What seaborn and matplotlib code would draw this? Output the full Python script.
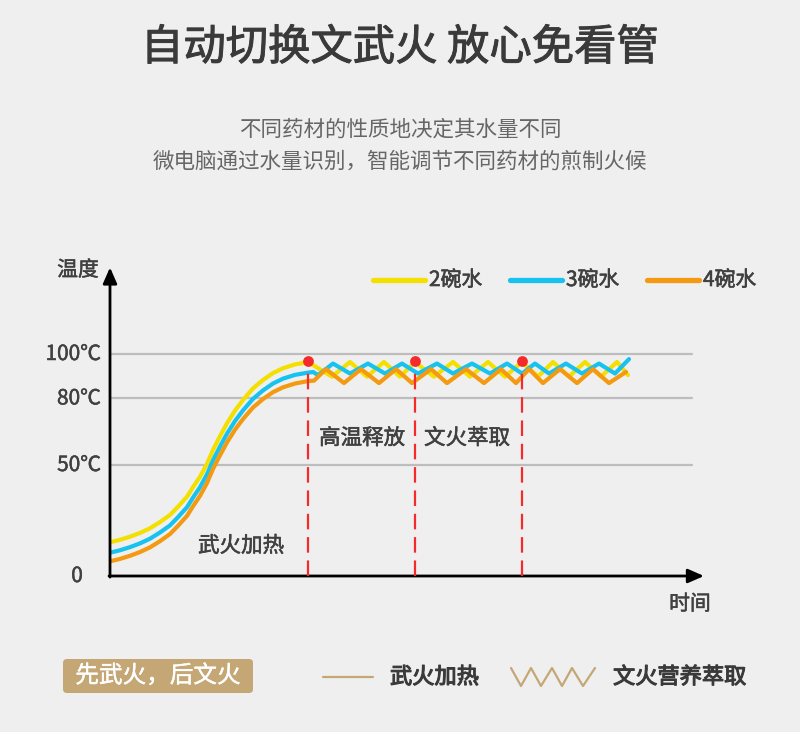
import numpy as np
import pandas as pd
import seaborn as sns
import matplotlib.pyplot as plt
import matplotlib.patheffects as pe
from matplotlib.patches import FancyBboxPatch

sns.set_theme(style='white')
plt.rcParams['font.family'] = ['Noto Sans CJK SC', 'DejaVu Sans']

# values (time in arbitrary units, temperature in ℃)
rise_time = [1, 10, 20, 30, 40, 50, 60, 68, 77, 83, 90, 97, 103, 110, 117, 125, 133, 143, 153, 163, 173, 185, 198]
rise_2 = [15.3, 16.3, 17.7, 19.4, 21.5, 24.3, 27.5, 31.2, 35.7, 40.0, 44.7, 50.5, 56.8, 63.0, 68.8, 74.5, 79.3, 84.5, 88.3, 91.4, 93.6, 95.3, 96.4]
rise_3 = [10.6, 11.6, 13.0, 14.7, 16.8, 19.6, 22.8, 26.5, 31.0, 35.3, 40.0, 45.8, 52.1, 58.3, 64.1, 69.8, 74.6, 79.8, 83.6, 86.7, 88.9, 90.6, 91.6]
rise_4 = [6.7, 7.7, 9.1, 10.8, 12.9, 15.7, 18.9, 22.6, 27.1, 31.4, 36.1, 41.9, 48.2, 54.4, 60.2, 65.9, 70.7, 75.9, 79.7, 82.8, 85.0, 86.7, 87.8]

keep_time_2 = [222, 240, 257, 274, 290, 305, 324, 343, 360, 378, 395, 412, 428, 443, 459, 475, 491, 507, 518]
keep_2 = [89.8, 96.4, 89.8, 96.4, 89.8, 96.4, 89.8, 96.4, 89.8, 96.4, 89.8, 96.4, 89.8, 96.4, 89.8, 96.4, 89.8, 96.4, 90.5]
keep_time_3 = [203, 208, 223, 240, 258, 275, 292, 308, 327, 343, 362, 380, 397, 412, 425, 439, 456, 472, 489, 505, 519]
keep_3 = [91.9, 90.5, 95.7, 91.2, 95.7, 91.2, 95.7, 91.2, 95.7, 91.2, 95.7, 91.2, 95.7, 91.2, 95.7, 91.2, 95.7, 91.2, 95.7, 91.2, 97.7]
keep_time_4 = [204, 216, 234, 251, 269, 286, 302, 321, 337, 356, 374, 391, 406, 419, 433, 450, 467, 483, 499, 516]
keep_4 = [88.0, 93.2, 86.9, 93.2, 86.9, 93.2, 86.9, 93.2, 86.9, 93.2, 86.9, 93.2, 86.9, 93.2, 86.9, 93.2, 86.9, 93.2, 86.9, 91.9]

series_names = ['2碗水', '3碗水', '4碗水']
series_colors = ['#f3e000', '#17c3ee', '#f39a12']

stage_time = [198, 305, 412]
stage_temp = 96.8
grid_temps = [50, 80, 100]
tick_labels = ['0', '50℃', '80℃', '100℃']
tick_temps = [0, 50, 80, 100]

frames = []
for name, rt, rv, kt, kv in [
    (series_names[0], rise_time, rise_2, keep_time_2, keep_2),
    (series_names[1], rise_time, rise_3, keep_time_3, keep_3),
    (series_names[2], rise_time, rise_4, keep_time_4, keep_4),
]:
    frames.append(pd.DataFrame({'time': rt + kt, 'temp': rv + kv, 'water': name}))
df = pd.concat(frames, ignore_index=True)

bg = '#efefef'
txt = '#404040'
tan = '#c4a775'


def heavy(c, w=0.6):
    # thin outline to fake a medium font weight
    return [pe.withStroke(linewidth=w, foreground=c)]


fig = plt.figure(figsize=(8, 7.32), dpi=100)
fig.patch.set_facecolor(bg)

# main axes placed in pixel terms: origin at (110, 576), 2.22 px per ℃
W, H = 800, 732
ax = fig.add_axes([110 / W, (H - 576) / H, 590 / W, 310.8 / H])
ax.set_facecolor('none')
ax.set_xlim(0, 590)
ax.set_ylim(0, 140)
for s in ax.spines.values():
    s.set_visible(False)
ax.set_xticks([])
ax.set_yticks([])

for t in grid_temps:
    ax.plot([0, 582], [t, t], color='#bdbdbd', lw=1.6, zorder=1)

sns.lineplot(data=df, x='time', y='temp', hue='water', palette=series_colors,
             hue_order=series_names, sort=False, estimator=None, lw=3.0,
             legend=False, ax=ax, zorder=3)

for t in stage_time:
    ax.plot([t, t], [0, stage_temp], color='#f52a2a', lw=1.6, dashes=(7, 3.5), zorder=4)
ax.scatter(stage_time, [stage_temp] * 3, s=60, color='#f52a2a', zorder=5, linewidths=0)

# axis arrows
ax.annotate('', xy=(0, 139), xytext=(0, -0.5), xycoords='data',
            arrowprops=dict(arrowstyle='-|>,head_length=0.8,head_width=0.35', color='black', lw=2.0, shrinkA=0, shrinkB=0))
ax.annotate('', xy=(594, 0), xytext=(-1, 0), xycoords='data', annotation_clip=False,
            arrowprops=dict(arrowstyle='-|>,head_length=0.8,head_width=0.35', color='black', lw=2.0, shrinkA=0, shrinkB=0))

for lab, t in zip(tick_labels, tick_temps):
    if lab == '0':
        ax.text(-33, t, lab, ha='center', va='center', fontsize=15, color=txt, path_effects=heavy(txt, 0.35))
    else:
        ax.text(-9, t, lab, ha='right', va='center', fontsize=15, color=txt, path_effects=heavy(txt, 0.35))

for x, y, s in [(252, 62, '高温释放'), (357, 62, '文火萃取'), (131, 13.5, '武火加热')]:
    ax.text(x, y, s, ha='center', va='center', fontsize=15.5, color=txt, path_effects=heavy(txt, 0.4))

# overlay in pixel coordinates for titles and legends
ov = fig.add_axes([0, 0, 1, 1])
ov.set_xlim(0, W)
ov.set_ylim(H, 0)
ov.axis('off')
ov.patch.set_alpha(0)

ov.text(400, 48, '自动切换文武火 放心免看管', ha='center', va='center', fontsize=30.5,
        color='#3a3a3a', path_effects=heavy('#3a3a3a', 0.7))
ov.text(400, 130, '不同药材的性质地决定其水量不同', ha='center', va='center', fontsize=15.5, color='#666666')
ov.text(400, 162, '微电脑通过水量识别，智能调节不同药材的煎制火候', ha='center', va='center', fontsize=15.5, color='#666666')

ov.text(78, 270, '温度', ha='center', va='center', fontsize=15, color=txt, path_effects=heavy(txt, 0.35))
ov.text(690, 604, '时间', ha='center', va='center', fontsize=15, color=txt, path_effects=heavy(txt, 0.35))

for i, (name, c) in enumerate(zip(series_names, series_colors)):
    x0 = 373 + i * 137
    ov.plot([x0, x0 + 52], [280, 280], color=c, lw=3.8, solid_capstyle='round')
    ov.text(x0 + 56, 280, name, ha='left', va='center', fontsize=15, color=txt, path_effects=heavy(txt, 0.45))

box = FancyBboxPatch((63, 659), 190, 34, boxstyle='round,pad=0,rounding_size=4',
                     facecolor=tan, edgecolor='none')
ov.add_patch(box)
ov.text(158, 676, '先武火，后文火', ha='center', va='center', fontsize=17, color='white',
        path_effects=heavy('white', 0.3))

ov.plot([323, 373], [677, 677], color=tan, lw=1.6)
ov.text(390, 677, '武火加热', ha='left', va='center', fontsize=16, color='#3a3a3a', path_effects=heavy('#3a3a3a', 0.8))
zig_x = [511, 521, 531, 541, 552, 562, 572, 583, 595]
zig_y = [668, 686, 668, 686, 668, 686, 668, 686, 668]
ov.plot(zig_x, zig_y, color=tan, lw=1.6)
ov.text(613, 677, '文火营养萃取', ha='left', va='center', fontsize=16, color='#3a3a3a', path_effects=heavy('#3a3a3a', 0.8))

fig.savefig('out.png', dpi=100, facecolor=bg)
